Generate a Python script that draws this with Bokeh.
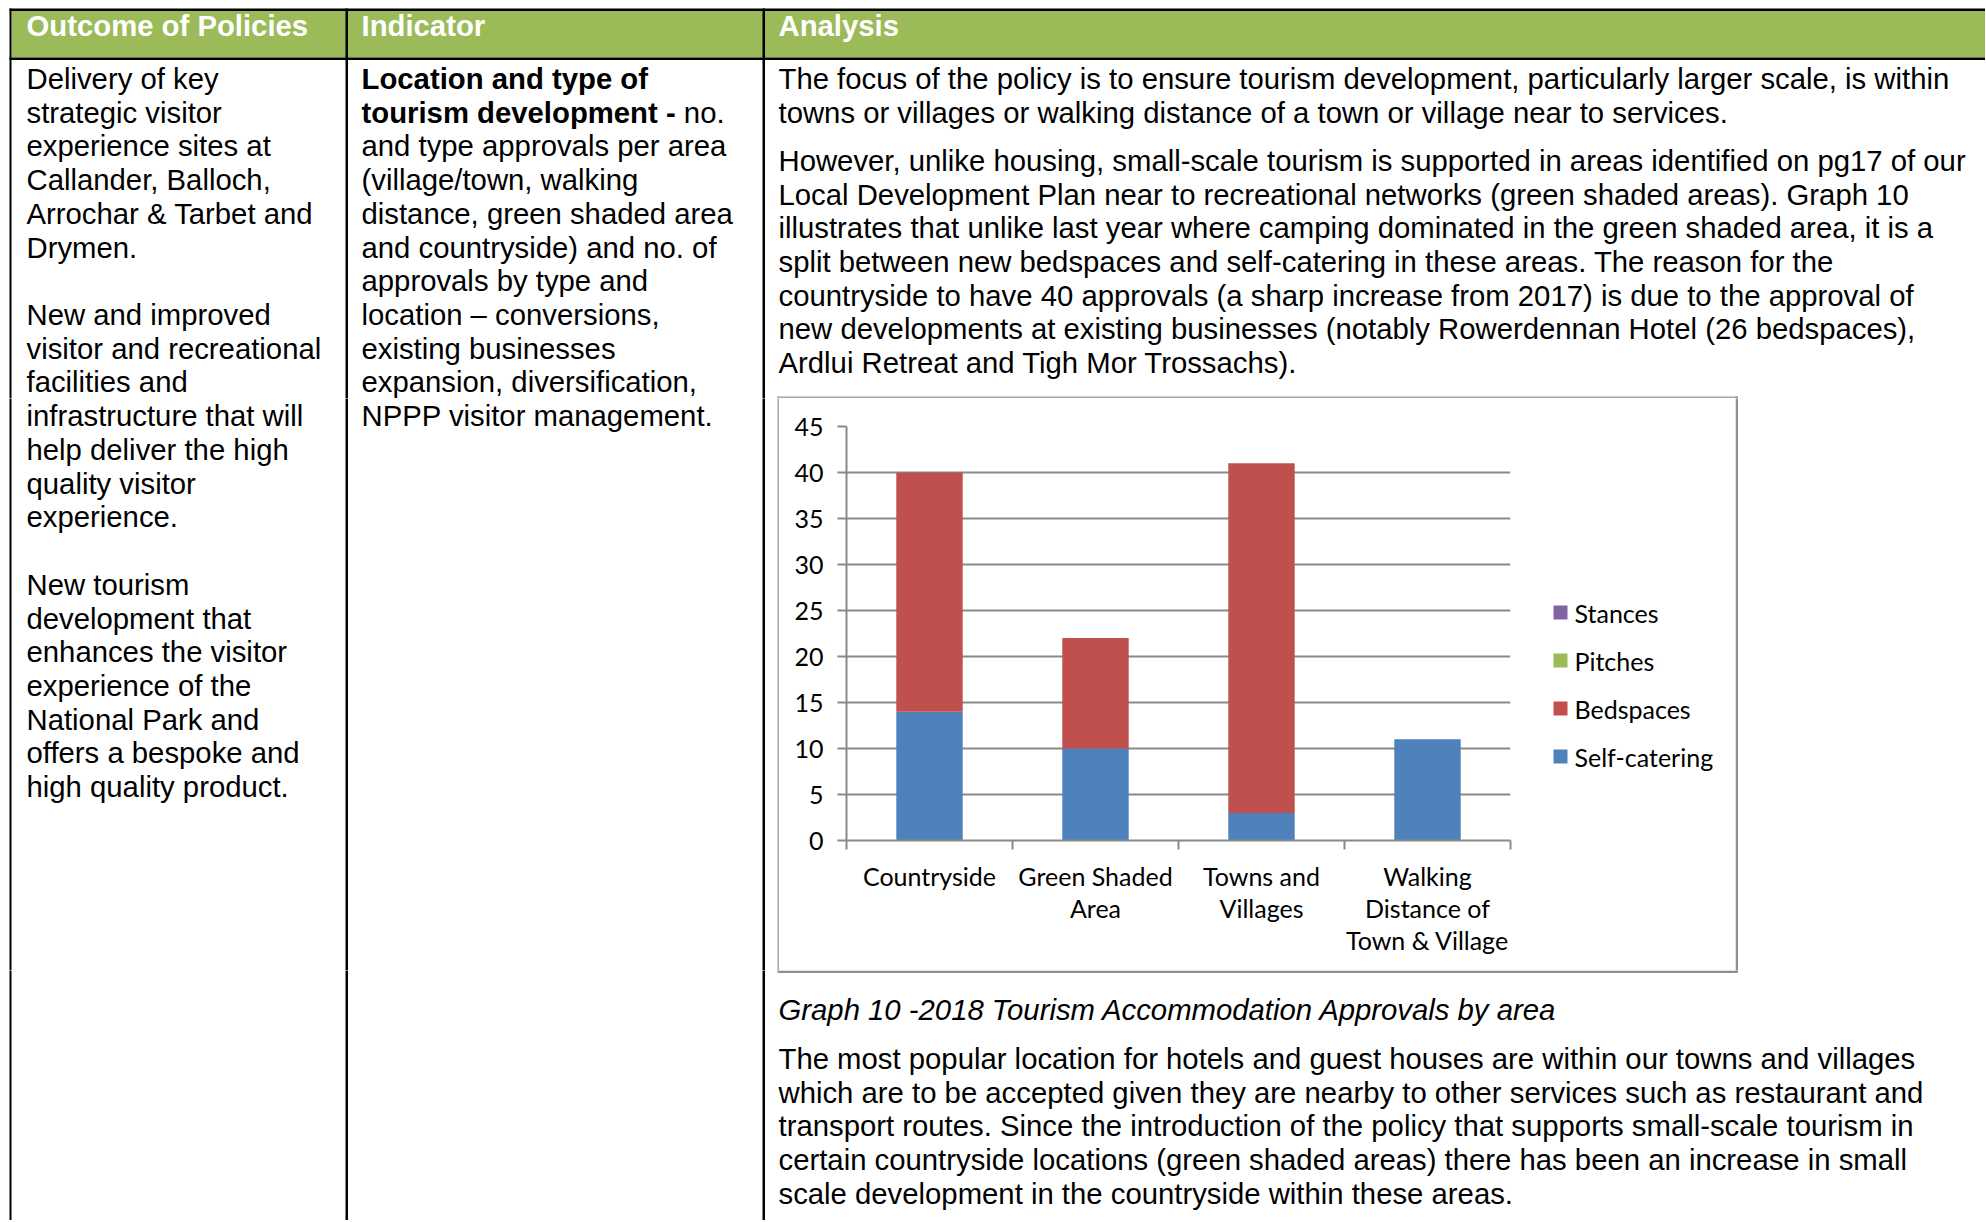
from bokeh.plotting import figure
from bokeh.models import Range1d, LinearAxis, FixedTicker, ColumnDataSource
from bokeh.layouts import column, row
from bokeh.core.properties import value
from bokeh.embed import file_html
from bokeh.resources import INLINE

# ---------------- chart data ----------------
categories = ["Countryside", "Green Shaded Area", "Towns and Villages",
              "Walking Distance of Town & Village"]
category_labels = ["Countryside", "Green Shaded\nArea", "Towns and\nVillages",
                   "Walking\nDistance of\nTown & Village"]
self_catering = [14, 10, 3, 11]
bedspaces = [26, 12, 38, 0]
pitches = [0, 0, 0, 0]
stances = [0, 0, 0, 0]
series_names = ["Self-catering", "Bedspaces", "Pitches", "Stances"]
series_colors = ["#4F81BD", "#C0504D", "#9BBB59", "#8064A2"]
y_ticks = [0, 5, 10, 15, 20, 25, 30, 35, 40, 45]

# ---------------- page text ----------------
header_labels = ["Outcome of Policies", "Indicator", "Analysis"]
outcome_lines = [
    "Delivery of key", "strategic visitor", "experience sites at",
    "Callander, Balloch,", "Arrochar & Tarbet and", "Drymen.", "",
    "New and improved", "visitor and recreational", "facilities and",
    "infrastructure that will", "help deliver the high", "quality visitor",
    "experience.", "",
    "New tourism", "development that", "enhances the visitor",
    "experience of the", "National Park and", "offers a bespoke and",
    "high quality product.",
]
indicator_bold = ["Location and type of", "tourism development -"]
indicator_after_bold = ["", "no."]
indicator_lines = [
    "and type approvals per area", "(village/town, walking",
    "distance, green shaded area", "and countryside) and no. of",
    "approvals by type and", "location \u2013 conversions,",
    "existing businesses", "expansion, diversification,",
    "NPPP visitor management.",
]
analysis_para1 = [
    "The focus of the policy is to ensure tourism development, particularly larger scale, is within",
    "towns or villages or walking distance of a town or village near to services.",
]
analysis_para2 = [
    "However, unlike housing, small-scale tourism is supported in areas identified on pg17 of our",
    "Local Development Plan near to recreational networks (green shaded areas). Graph 10",
    "illustrates that unlike last year where camping dominated in the green shaded area, it is a",
    "split between new bedspaces and self-catering in these areas. The reason for the",
    "countryside to have 40 approvals (a sharp increase from 2017) is due to the approval of",
    "new developments at existing businesses (notably Rowerdennan Hotel (26 bedspaces),",
    "Ardlui Retreat and Tigh Mor Trossachs).",
]
caption = "Graph 10 -2018 Tourism Accommodation Approvals by area"
analysis_para3 = [
    "The most popular location for hotels and guest houses are within our towns and villages",
    "which are to be accepted given they are nearby to other services such as restaurant and",
    "transport routes.  Since the introduction of the policy that supports small-scale tourism in",
    "certain countryside locations (green shaded areas) there has been an increase in small",
    "scale development in the countryside within these areas.",
]

# ---------------- styling ----------------
BODY_FONT = "Liberation Sans"
BODY_SIZE = 29.3
CHART_FONT = "Lato"
CHART_SIZE = "25px"
GRID_C = "#898989"
GREEN = "#9BBB59"
PITCH = 33.72
LEFT_X, MID_X, RIGHT_X = 26, 361, 778
FIRST_BASE = 78.0

texts = []  # (x, y_baseline, text, style, color)
for i, t in enumerate(header_labels):
    texts.append(([LEFT_X, MID_X, RIGHT_X][i], 24.5, t, "bold", "white"))
for i, t in enumerate(outcome_lines):
    if t:
        texts.append((LEFT_X, FIRST_BASE + PITCH * i, t, "normal", "black"))
# Arial-bold advance of "tourism development - " in em units
bold_adv = 11.002
for i, t in enumerate(indicator_bold):
    texts.append((MID_X, FIRST_BASE + PITCH * i, t, "bold", "black"))
    if indicator_after_bold[i]:
        texts.append((MID_X + bold_adv * BODY_SIZE, FIRST_BASE + PITCH * i,
                      indicator_after_bold[i], "normal", "black"))
for i, t in enumerate(indicator_lines):
    texts.append((MID_X, FIRST_BASE + PITCH * (i + 2), t, "normal", "black"))
for i, t in enumerate(analysis_para1):
    texts.append((RIGHT_X, FIRST_BASE + PITCH * i, t, "normal", "black"))
for i, t in enumerate(analysis_para2):
    texts.append((RIGHT_X, 159.8 + PITCH * i, t, "normal", "black"))
texts.append((RIGHT_X, 1008.5, caption, "italic", "black"))
for i, t in enumerate(analysis_para3):
    texts.append((RIGHT_X, 1057.9 + PITCH * i, t, "normal", "black"))

# rectangles: (left, right, top, bottom, color)
rects = [
    (11, 1986, 10.5, 57, GREEN),
    (9, 1986, 8, 10.5, "black"),
    (9, 1986, 57, 59.5, "black"),
    (9, 11, 8, 1222, "black"),
    (345, 347.5, 8, 1222, "black"),
    (762, 764.5, 8, 1222, "black"),
    # chart frame box
    (777, 1737, 396, 398, "#a6a6a6"),
    (777, 1737, 970, 972.5, "#8f8f8f"),
    (777, 779, 396, 972, "#a6a6a6"),
    (1735, 1737.5, 396, 972, "#8f8f8f"),
]


def piece(x0, x1, y0, y1):
    p = figure(width=x1 - x0, height=y1 - y0, x_range=Range1d(x0, x1),
               y_range=Range1d(y1, y0), toolbar_location=None,
               output_backend="svg", x_axis_location=None,
               y_axis_location=None, min_border=0, frame_align=False)
    p.grid.visible = False
    p.outline_line_color = None
    p.background_fill_color = "white"
    p.border_fill_color = "white"
    for (l, r, t, b, c) in rects:
        if r <= x0 or l >= x1 or b <= y0 or t >= y1:
            continue
        p.quad(left=[l], right=[r], top=[t], bottom=[b], fill_color=c,
               line_color=None)
    for (x, y, t, style, c) in texts:
        yc = y - 8
        if x0 <= x < x1 and y0 <= yc < y1:
            p.text(x=[x], y=[y], text=[t], text_font=value(BODY_FONT),
                   text_font_size=value(f"{BODY_SIZE}px"),
                   text_font_style=style, text_color=c,
                   text_baseline="alphabetic", text_align="left")
    return p


CHART_X0, CHART_X1 = 779, 1530
top = piece(0, 1985, 0, 398)
left = piece(0, CHART_X0, 398, 970)
legend_piece = piece(CHART_X1, 1735, 398, 970)
right = piece(1735, 1985, 398, 970)
bottom = piece(0, 1985, 970, 1220)

# ---------------- chart ----------------
n = len(categories)
slots = [i + 0.5 for i in range(n)]          # centre of each category slot
source = ColumnDataSource(data={"slot": slots,
                                "cat": categories,
                                "Self-catering": self_catering,
                                "Bedspaces": bedspaces,
                                "Pitches": pitches,
                                "Stances": stances})
chart = figure(width=CHART_X1 - CHART_X0, height=572,
               x_range=Range1d(0, n), y_range=Range1d(0, 45),
               x_axis_location=None,
               toolbar_location=None, output_backend="svg",
               min_border_left=67, min_border_right=20,
               min_border_top=28, min_border_bottom=130, frame_align=False)
chart.outline_line_color = None
chart.xgrid.visible = False
chart.ygrid.ticker = FixedTicker(ticks=y_ticks)
chart.ygrid.grid_line_color = GRID_C
chart.ygrid.grid_line_width = 2

renderers = chart.vbar_stack(series_names, x="slot", width=0.4, source=source,
                             fill_color=series_colors, line_color=None)

yax = chart.yaxis[0]
yax.ticker = FixedTicker(ticks=y_ticks)
yax.axis_line_color = GRID_C
yax.axis_line_width = 2
yax.major_tick_line_color = GRID_C
yax.major_tick_line_width = 2
yax.major_tick_out = 9
yax.major_tick_in = 0
yax.minor_tick_line_color = None
yax.major_label_text_font = CHART_FONT
yax.major_label_text_font_size = CHART_SIZE
yax.major_label_text_color = "black"
yax.major_label_standoff = 14

xax = LinearAxis(ticker=FixedTicker(ticks=slots,
                                    minor_ticks=list(range(n + 1))),
                 major_label_overrides={slots[i]: category_labels[i] for i in range(n)})
xax.axis_line_color = GRID_C
xax.axis_line_width = 2
xax.major_tick_line_color = None
xax.major_tick_out = 0
xax.major_tick_in = 0
xax.minor_tick_line_color = GRID_C
xax.minor_tick_line_width = 2
xax.minor_tick_out = 9
xax.minor_tick_in = 0
xax.major_label_text_font = CHART_FONT
xax.major_label_text_font_size = CHART_SIZE
xax.major_label_text_color = "black"
xax.major_label_text_line_height = 1.07
xax.major_label_standoff = 11
chart.add_layout(xax, "below")

# ---------------- legend (drawn beside the plot frame) ----------------
leg_names = series_names[::-1]
leg_colors = series_colors[::-1]
leg_y = [612 + 48 * i for i in range(len(leg_names))]
legend_piece.rect(x=[1560] * len(leg_names), y=leg_y, width=14, height=14,
                  fill_color=leg_colors, line_color=None)
legend_piece.text(x=[1574] * len(leg_names), y=leg_y, text=leg_names,
                  text_font=value(CHART_FONT), text_font_size=value(CHART_SIZE),
                  text_color="black", text_baseline="middle", text_align="left")

layout = column(top, row(left, chart, legend_piece, right), bottom)

open("out.html", "w").write(file_html(layout, INLINE))
